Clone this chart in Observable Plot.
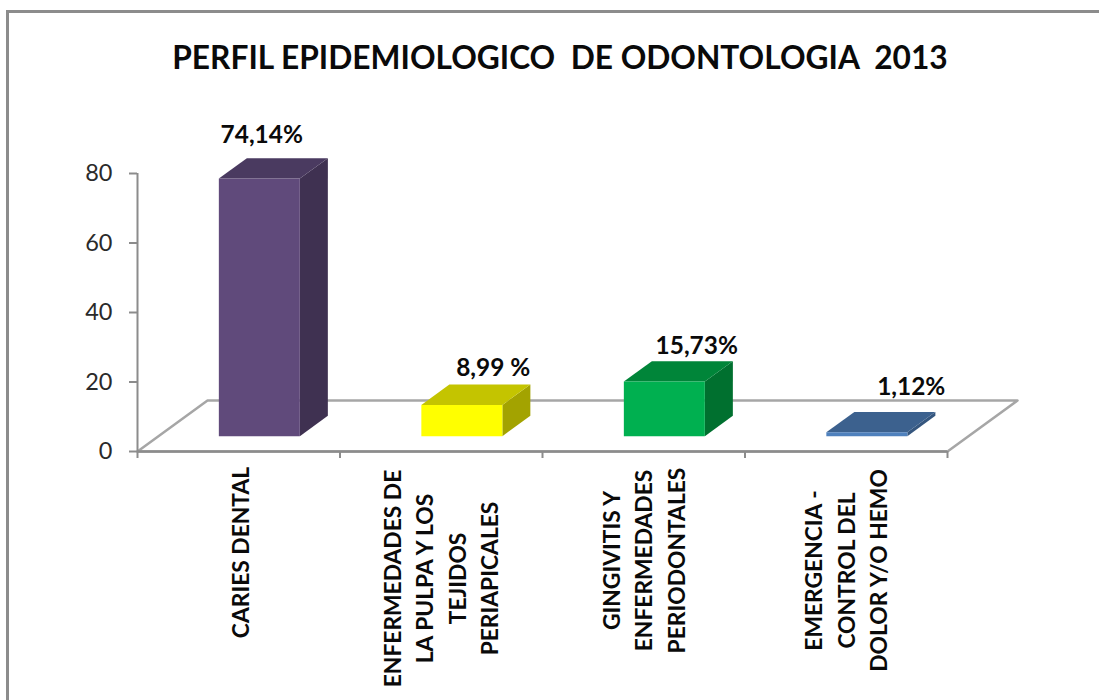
<!DOCTYPE html>
<html><head><meta charset="utf-8">
<script src="https://cdn.jsdelivr.net/npm/d3@7"></script>
<script src="https://cdn.jsdelivr.net/npm/@observablehq/plot@0.6"></script>
<style>
html,body{margin:0;padding:0;background:#fff}
#page{position:relative;width:1099px;height:700px;overflow:hidden;background:#fff}
#frame{position:absolute;left:6px;top:10px;width:1200px;height:800px;border:3px solid #8c8c8c;box-sizing:border-box}
#title{position:relative;height:90px;box-sizing:border-box;padding-top:37px;text-align:center;padding-left:21px;font:bold 31.7px Lato,sans-serif;color:#0a0a0a;white-space:pre;line-height:40px}
svg{display:block;position:relative}
</style></head><body>
<div id="page"><div id="frame"></div><div id="title"></div><div id="chart"></div></div>
<script>
const titleText = "PERFIL EPIDEMIOLOGICO  DE ODONTOLOGIA  2013";
const categories = ["CARIES DENTAL","ENFERMEDADES DE\nLA PULPA Y LOS\nTEJIDOS\nPERIAPICALES","GINGIVITIS Y\nENFERMEDADES\nPERIODONTALES","EMERGENCIA -\nCONTROL DEL\nDOLOR Y/O HEMO"];
const values = [74.14, 8.99, 15.73, 1.12];
const valueLabels = ["74,14%","8,99 %","15,73%","1,12%"];
const yTicks = [0,20,40,60,80];
const frontColors = ["#604a7b","#ffff00","#00b050","#4f81bd"];
const topColors = ["#4a3a60","#c4c400","#008539","#3c618e"];
const sideColors = ["#3f3151","#a3a300","#00702f","#35567e"];

// oblique projection: depth d (0 front .. 1 back of the floor) shifts x (categories) and y (value units)
const depthX = 0.3457, depthY = 14.68;
const pt = (x, v, d) => ({px: x + d*depthX, py: v + d*depthY});
const barInset = 0.298, barW = 0.4, d0 = 0.3, d1 = 0.7;
const poly = (pts, fill) => Plot.line(pts, {x:"px", y:"py", fill, stroke:"none", curve:"linear-closed"});

const labelDx = [2, 31, 32, 44];
const labelDy = [-23, -16, -15, -25];
const catDx = [0, -2, -2, -2];
const catDy = [101, 127, 109, 119];
const axisColor = "#8c8c8c";
const bold = {fontFamily:"Lato, sans-serif", fontWeight:"bold", fill:"#0a0a0a"};

const floor = [pt(0,0,0), pt(4,0,0), pt(4,0,1), pt(0,0,1), pt(0,0,0)];

const marks = [
  Plot.line(floor, {x:"px", y:"py", stroke:"#a6a6a6", strokeWidth:2.5}),
  Plot.ruleX([0], {y1:0, y2:80, stroke:axisColor, strokeWidth:2}),
  Plot.ruleY([0], {x1:0, x2:4, stroke:axisColor, strokeWidth:2.5}),
  Plot.axisY({ticks:yTicks, tickSize:8, stroke:axisColor, strokeWidth:2, fill:"#2a2a2a", fontSize:23.5, fontFamily:"Lato, sans-serif", tickPadding:17, label:null}),
  Plot.axisX({ticks:[0,1,2,3,4], tickSize:7, stroke:axisColor, strokeWidth:2, tickFormat:()=>"", label:null})
];
values.forEach((v,i)=>{
  const x0 = i+barInset, x1 = x0+barW;
  marks.push(poly([pt(x1,0,d0),pt(x1,v,d0),pt(x1,v,d1),pt(x1,0,d1)], sideColors[i]));
  marks.push(poly([pt(x0,v,d0),pt(x1,v,d0),pt(x1,v,d1),pt(x0,v,d1)], topColors[i]));
  marks.push(poly([pt(x0,0,d0),pt(x1,0,d0),pt(x1,v,d0),pt(x0,v,d0)], frontColors[i]));
  const top = pt(i+0.5, v, d1);
  marks.push(Plot.text([valueLabels[i]], {x:top.px-depthX*0.4, y:top.py, text:d=>d, dx:labelDx[i], dy:labelDy[i], fontSize:24.4, ...bold}));
  marks.push(Plot.text([categories[i]], {x:i+0.5, y:0, text:d=>d, rotate:-90, dx:catDx[i], dy:catDy[i], fontSize:22.8, lineHeight:1.425, ...bold}));
});
const chart = Plot.plot({
  width:1099, height:610, marginLeft:137, marginRight:152, marginTop:83, marginBottom:249,
  x:{domain:[0,4]}, y:{domain:[0,80]},
  style:{background:"transparent", whiteSpace:"pre"},
  marks
});
document.getElementById("title").textContent = titleText;
document.getElementById("chart").append(chart);
</script></body></html>
